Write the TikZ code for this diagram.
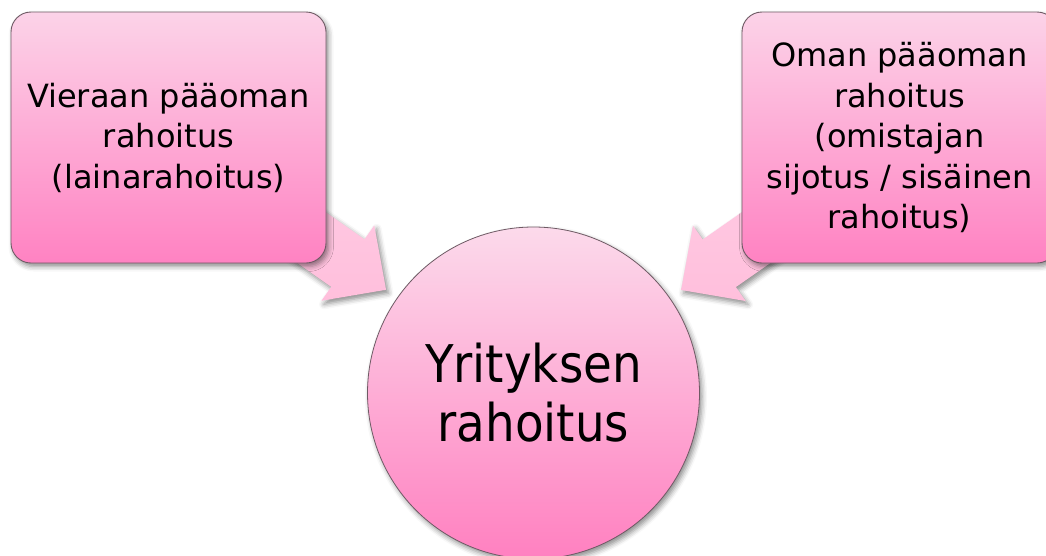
\documentclass[tikz,border=0pt]{standalone}
\usepackage{fontspec}
\setmainfont{DejaVu Sans}
\newfontfamily\narrowfont[FakeStretch=0.9]{DejaVu Sans}
\usetikzlibrary{calc,shadows.blur}
\pgfdeclarelayer{background}
\pgfsetlayers{background,main}

\definecolor{boxtop}{HTML}{FCD3E8}
\definecolor{boxbot}{HTML}{FF82C2}
\definecolor{hubtop}{HTML}{FCDAEB}
\definecolor{hubbot}{HTML}{FF80C0}
\definecolor{flowtop}{HTML}{FFD0E6}
\definecolor{flowbot}{HTML}{FFBFDC}
\definecolor{edgecol}{HTML}{6E5A64}

% block arrow from the centre of #1 towards the centre of #2,
% its tip stopping short of the target
\newcommand\flowarrow[2]{%
  \coordinate (tip) at ($(#2.center)!180pt!(#1.center)$);
  \coordinate (base) at ($(tip)!46.6pt!(#1.center)$);
  \path[flow]
    ($(#1.center)!29pt!90:(tip)$) --
    ($(base)!29pt!90:(tip)$) --
    ($(base)!46pt!90:(tip)$) --
    (tip) --
    ($(base)!46pt!-90:(tip)$) --
    ($(base)!29pt!-90:(tip)$) --
    ($(#1.center)!29pt!-90:(tip)$) -- cycle;
}

\begin{document}
\begin{tikzpicture}[x=1pt,y=-1pt,
  softshadow/.style={blur shadow={shadow xshift=2.5pt, shadow yshift=-3.5pt,
      shadow blur radius=5pt, shadow opacity=45}},
  fundbox/.style={rectangle, rounded corners=20pt, minimum width=315pt,
      minimum height=251pt, inner sep=0pt, align=center,
      top color=boxtop, bottom color=boxbot, draw=edgecol, line width=0.9pt,
      font=\fontsize{32}{40.5}\selectfont, softshadow},
  hub/.style={circle, minimum size=332pt, inner sep=0pt, align=center,
      top color=hubtop, bottom color=hubbot, draw=edgecol, line width=0.8pt,
      font=\narrowfont\fontsize{52}{59}\selectfont, softshadow},
  flow/.style={top color=flowtop, bottom color=flowbot, draw=none, softshadow}]

\useasboundingbox (0,0) rectangle (1046,555);
\clip (0,0) rectangle (1046,555);

\node[fundbox] (vb) at (168.5,137.5) {Vieraan pääoman\\rahoitus\\(lainarahoitus)};
\node[fundbox] (ob) at (899.5,137.5) {Oman pääoman\\rahoitus\\(omistajan\\sijotus / sisäinen\\rahoitus)};
\node[hub] (yr) at (533.5,393) {Yrityksen\\rahoitus};

\begin{pgfonlayer}{background}
  \flowarrow{vb}{yr}
  \flowarrow{ob}{yr}
\end{pgfonlayer}
\end{tikzpicture}
\end{document}
